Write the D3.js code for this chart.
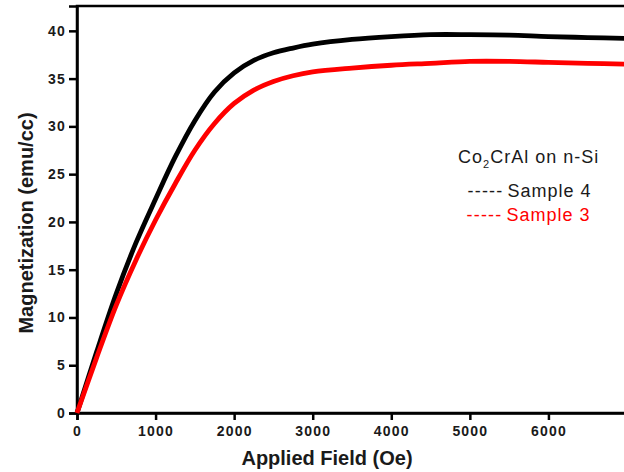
<!DOCTYPE html>
<html>
<head>
<meta charset="utf-8">
<script src="https://cdn.jsdelivr.net/npm/d3@7"></script>
<style>
  body { margin: 0; background: #fff; }
  text { font-family: "Liberation Sans", Arial, sans-serif; }
</style>
</head>
<body>
<div id="chart"></div>
<script>
// data
var field = [0, 250, 500, 750, 1000, 1250, 1500, 1750, 2000, 2250, 2500, 2750, 3000, 3500, 4000, 4500, 5000, 5500, 6000, 6500, 7000];
var sample4 = [0, 6.4, 12.5, 17.8, 22.4, 26.8, 30.6, 33.6, 35.6, 36.9, 37.7, 38.2, 38.6, 39.1, 39.4, 39.6, 39.6, 39.55, 39.4, 39.3, 39.2];
var sample3 = [0, 5.8, 11.3, 16.0, 20.2, 24.0, 27.5, 30.3, 32.4, 33.8, 34.7, 35.3, 35.7, 36.1, 36.4, 36.6, 36.8, 36.8, 36.7, 36.6, 36.5];
var xTicks = [0, 1000, 2000, 3000, 4000, 5000, 6000];
var yTicks = [0, 5, 10, 15, 20, 25, 30, 35, 40];
var seriesNames = ["Sample 4", "Sample 3"];
var seriesColors = ["#000000", "#ff0000"];

// dimensions and margins of graph (plot runs past the right edge)
var margin = {top: 6, right: 0, bottom: 59, left: 77},
    width = 550,
    height = 472 - margin.top - margin.bottom;

var svg = d3.select("#chart")
  .append("svg")
    .attr("width", 624)
    .attr("height", 472)
  .append("g")
    .attr("transform", "translate(" + margin.left + "," + margin.top + ")");

var x = d3.scaleLinear().domain([0, 7000]).range([0, width]);
var y = d3.scaleLinear().domain([0, 42.6]).range([height, 0]);

// frame
svg.append("rect")
    .attr("x", 0).attr("y", 0)
    .attr("width", width).attr("height", height)
    .attr("fill", "none")
    .attr("stroke", "#000")
    .attr("stroke-width", 2.5);

// X axis
var xAxis = svg.append("g")
    .attr("transform", "translate(0," + height + ")")
    .call(d3.axisBottom(x).tickValues(xTicks).tickSize(7).tickPadding(6).tickFormat(d3.format("d")));

// Y axis
var yAxis = svg.append("g")
    .call(d3.axisLeft(y).tickValues(yTicks).tickSize(8).tickPadding(3));

[xAxis, yAxis].forEach(function(ax) {
  ax.select(".domain").attr("stroke", "#000").attr("stroke-width", 2.5);
  ax.selectAll(".tick line").attr("stroke", "#000").attr("stroke-width", 2.5);
  ax.selectAll(".tick text")
    .attr("fill", "#1a1a1a")
    .attr("font-size", "14px")
    .attr("font-weight", "bold")
    .attr("letter-spacing", "1.2px")
    .style("font-family", "'Liberation Sans', Arial, sans-serif");
});

// axis titles
svg.append("text")
    .attr("x", 250)
    .attr("y", height + 52)
    .attr("font-size", "20px")
    .attr("font-weight", "bold")
    .attr("fill", "#1a1a1a")
    .style("text-anchor", "middle")
    .text("Applied Field (Oe)");

svg.append("text")
    .attr("transform", "rotate(-90)")
    .attr("x", -(223 - margin.top))
    .attr("y", 33 - margin.left)
    .attr("font-size", "20px")
    .attr("font-weight", "bold")
    .attr("fill", "#1a1a1a")
    .style("text-anchor", "middle")
    .text("Magnetization (emu/cc)");

// one line per sample
var valueline = d3.line()
  .x(function(d, i) { return x(field[i]); })
  .y(function(d) { return y(d); })
  .curve(d3.curveCatmullRom.alpha(0.5));

[sample4, sample3].forEach(function(s, i) {
  svg.append("path")
     .datum(s)
     .attr("fill", "none")
     .attr("stroke", seriesColors[i])
     .attr("stroke-width", 4.8)
     .attr("stroke-linejoin", "round")
     .attr("d", valueline);
});

// legend
var legend = svg.append("g")
    .attr("transform", "translate(" + (458 - margin.left) + "," + (163 - margin.top) + ")");

var title = legend.append("text")
    .attr("font-size", "18px")
    .attr("letter-spacing", "1px")
    .attr("fill", "#1a1a1a");
title.append("tspan").text("Co");
title.append("tspan").attr("font-size", "11px").attr("dy", 5).text("2");
title.append("tspan").attr("dy", -5).text("CrAl on n-Si");

var lineLegend = legend.selectAll(".lineLegend").data(seriesNames)
    .enter().append("g")
    .attr("class", "lineLegend")
    .attr("transform", function(d, i) { return "translate(" + (9.5 - i) + "," + (34 + i * 24) + ")"; });

lineLegend.append("text")
    .attr("font-size", "18px")
    .attr("letter-spacing", "1.2px")
    .attr("fill", function(d, i) { return i === 0 ? "#1a1a1a" : seriesColors[i]; })
    .text("-----");

lineLegend.append("text")
    .attr("x", 40)
    .attr("font-size", "18px")
    .attr("letter-spacing", "1px")
    .attr("fill", function(d, i) { return i === 0 ? "#1a1a1a" : seriesColors[i]; })
    .text(function(d) { return d; });
</script>
</body>
</html>
